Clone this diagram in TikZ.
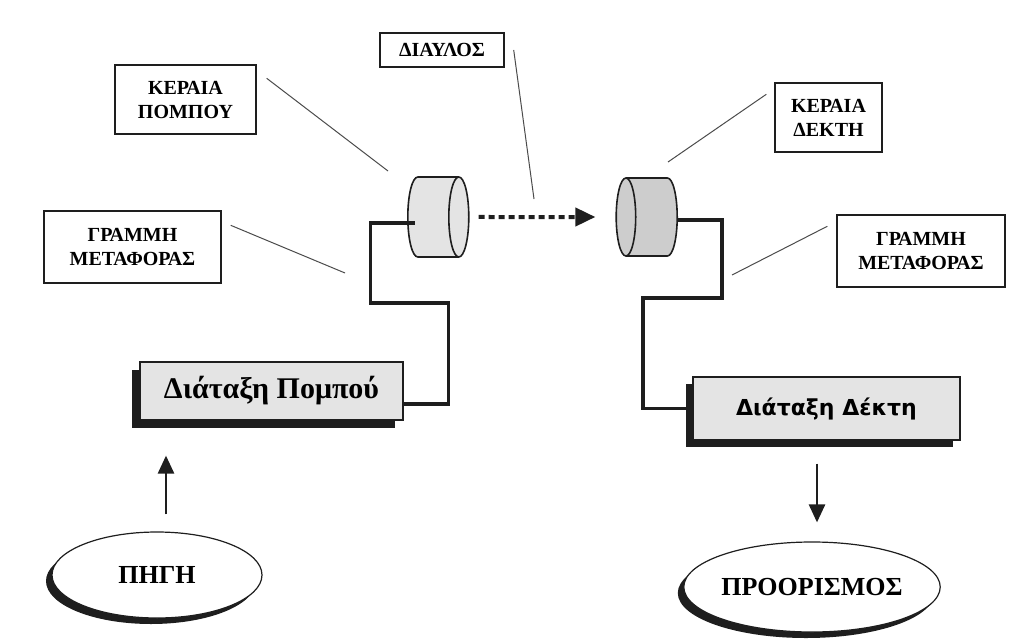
\documentclass[tikz,border=0pt]{standalone}
\usepackage{fontspec}
\setmainfont{Liberation Serif}
\newfontfamily\devicesans{DejaVu Sans}
\usetikzlibrary{shapes.geometric,arrows.meta,shadows}
\definecolor{inkblack}{RGB}{30,30,30}
\definecolor{leadgray}{RGB}{75,75,75}
\definecolor{stipple}{RGB}{228,228,228}
\definecolor{stippledark}{RGB}{205,205,205}

\begin{document}
\begin{tikzpicture}[x=0.5pt, y=-0.5pt,
    label/.style={draw=inkblack, line width=0.7pt, fill=white, align=center, inner sep=0pt,
        font=\bfseries\fontsize{10}{12}\selectfont},
    leader/.style={leadgray, line width=0.5pt},
    device/.style={draw=inkblack, line width=0.6pt, fill=stipple, inner sep=0pt},
    antenna/.style={cylinder, draw=inkblack, line width=0.8pt, inner xsep=0pt, inner ysep=20pt,
        minimum height=30.5pt, shape aspect=0.25, cylinder uses custom fill},
    wire/.style={inkblack, line width=1.6pt},
    flow/.style={inkblack, line width=1.3pt, -{Triangle[length=9pt,width=8pt]}},
    channel/.style={inkblack, line width=2pt, dash pattern=on 3pt off 2pt, -{Triangle[length=10pt,width=9pt]}},
    endpoint/.style={ellipse, draw=inkblack, line width=0.6pt, fill=white, inner sep=0pt,
        font=\bfseries\fontsize{13}{15}\selectfont,
        drop shadow={shadow xshift=-3pt, shadow yshift=-3pt, fill=inkblack, opacity=1}}]
    \useasboundingbox (0,0) rectangle (1011,642);

    % transmitter side
    \node[label, minimum width=70.5pt, minimum height=34.5pt] (kp) at (185.5,99.5) {ΚΕΡΑΙΑ\\ΠΟΜΠΟΥ};
    \node[label, minimum width=88.5pt, minimum height=36pt] (gml) at (132.5,247) {ΓΡΑΜΜΗ\\ΜΕΤΑΦΟΡΑΣ};
    \node[antenna, anchor=west, cylinder body fill=stipple, cylinder end fill=stipple] (ant1) at (407,217) {};
    \node[device, minimum width=131.5pt, minimum height=29pt,
        drop shadow={shadow xshift=-4pt, shadow yshift=-4pt, fill=inkblack, opacity=1},
        font=\bfseries\fontsize{15}{17}\selectfont] (tx) at (271.5,391) {Διάταξη Πομπού};
    \node[endpoint, minimum width=105pt, minimum height=43pt] (src) at (157,575) {ΠΗΓΗ};

    % channel
    \node[label, minimum width=62pt, minimum height=17pt] (dia) at (442,50) {ΔΙΑΥΛΟΣ};

    % receiver side
    \node[label, minimum width=53.5pt, minimum height=34.5pt] (kd) at (828.5,117.5) {ΚΕΡΑΙΑ\\ΔΕΚΤΗ};
    \node[label, minimum width=84pt, minimum height=36pt] (gmr) at (921,251) {ΓΡΑΜΜΗ\\ΜΕΤΑΦΟΡΑΣ};
    \node[antenna, shape border rotate=180, anchor=east, inner ysep=19.5pt,
        cylinder body fill=stippledark, cylinder end fill=stippledark] (ant2) at (678,217) {};
    \node[device, minimum width=133.5pt, minimum height=31.5pt,
        drop shadow={shadow xshift=-3.5pt, shadow yshift=-3.5pt, fill=inkblack, opacity=1},
        font=\devicesans\bfseries\fontsize{11}{13}\selectfont] (rx) at (826.5,408.5) {Διάταξη Δέκτη};
    \node[endpoint, minimum width=102.5pt, minimum height=45pt] (dst) at (812,587) {ΠΡΟΟΡΙΣΜΟΣ};

    % leader lines
    \coordinate (kpend) at (388,171);
    \coordinate (gmlend) at (345,273);
    \coordinate (diaend) at (534,199);
    \coordinate (kdend) at (668,162);
    \coordinate (gmrend) at (732,275);
    \draw[leader] ([xshift=5pt,yshift=-7pt]kp.north east) -- (kpend);
    \draw[leader] ([xshift=4.5pt,yshift=-7.5pt]gml.north east) -- (gmlend);
    \draw[leader] ([xshift=4.5pt]dia.east) -- (diaend);
    \draw[leader] ([xshift=-4pt,yshift=-6pt]kd.north west) -- (kdend);
    \draw[leader] ([xshift=-4.5pt,yshift=-6pt]gmr.north west) -- (gmrend);

    % transmission lines
    \draw[wire] ([yshift=-6.5pt]tx.east) -- ++(45,0) -- ++(0,-101) -- ++(-78,0) |- ([xshift=4pt,yshift=-3pt]ant1.west);
    \draw[wire] ([yshift=-1.5pt]ant2.east) -- ++(44,0) -- ++(0,78) -- ++(-79,0) |- (rx.west);

    % signal flow
    \draw[channel, shorten <=4.5pt, shorten >=10pt] (ant1.east) -- (ant2.west);
    \draw[flow, shorten <=8.5pt, shorten >=17.5pt] ([xshift=4.5pt]src.north) -- ([xshift=4.5pt]src.north |- tx.south);
    \draw[flow, shorten <=11.5pt, shorten >=9.5pt] ([xshift=-4.75pt]rx.south) -- ([xshift=-4.75pt]rx.south |- dst.north);
\end{tikzpicture}
\end{document}
